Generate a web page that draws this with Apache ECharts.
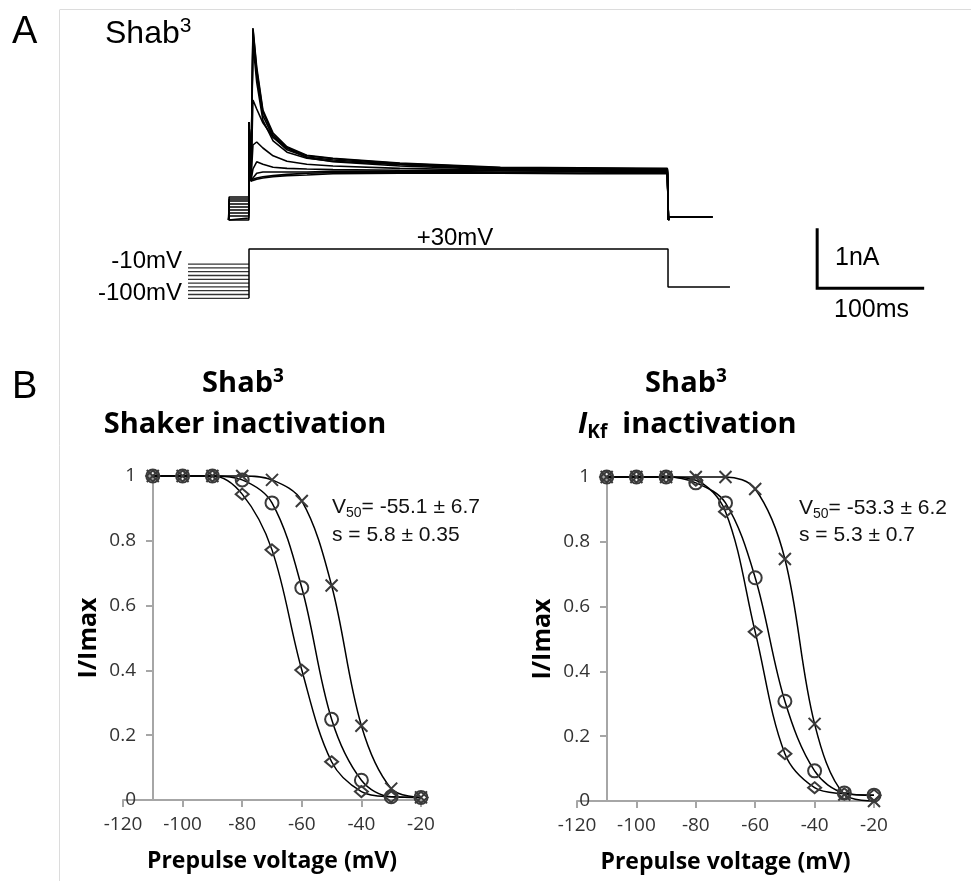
<!DOCTYPE html>
<html><head><meta charset="utf-8">
<script src="https://cdn.jsdelivr.net/npm/echarts@6/dist/echarts.min.js"></script>
<style>html,body{margin:0;padding:0;background:#fff}#c{width:971px;height:881px}</style>
</head><body><div id="c"></div>
<script>
// ---------- Panel B data ----------
const prepulseV = [-110, -100, -90, -80, -70, -60, -50, -40, -30, -20];
const shakerDiamond = [1, 1, 1, 0.944, 0.772, 0.401, 0.118, 0.026, 0.01, 0.008];
const shakerCircle  = [1, 1, 1, 0.988, 0.917, 0.655, 0.249, 0.061, 0.01, 0.008];
const shakerCross   = [1, 1, 1, 1.0, 0.988, 0.923, 0.662, 0.229, 0.035, 0.008];
const ikfDiamond = [1, 1, 1, 0.99, 0.893, 0.522, 0.146, 0.041, 0.022, 0.018];
const ikfCircle  = [1, 1, 1, 0.982, 0.92, 0.689, 0.308, 0.093, 0.025, 0.018];
const ikfCross   = [1, 1, 1, 1.0, 1.0, 0.963, 0.747, 0.238, 0.02, 0.0];

// ---------- Panel A data (time in ms, current in nA) ----------
const traceT = [-19, -18.6, -0.2, 0, 1.8, 3.7, 7.2, 13, 22.5, 35.5, 54, 78.5, 141, 235, 310, 391, 392, 393, 433];
const iPre100 = [0, 0, 0, 1.63, 0.65, 3.2, 2.55, 1.83, 1.45, 1.22, 1.08, 1.03, 0.95, 0.88, 0.87, 0.86, 0, 0.05, 0.05];
const iPre90  = [0, 0.033, 0.033, 1.63, 0.65, 3.18, 2.5, 1.8, 1.42, 1.2, 1.07, 1.02, 0.94, 0.87, 0.86, 0.85, 0, 0.05, 0.05];
const iPre80  = [0, 0.067, 0.067, 1.63, 0.65, 3.1, 2.42, 1.74, 1.38, 1.17, 1.05, 1.0, 0.93, 0.86, 0.85, 0.84, 0, 0.05, 0.05];
const iPre70  = [0, 0.117, 0.117, 1.63, 0.65, 2.95, 2.3, 1.66, 1.32, 1.13, 1.03, 0.98, 0.92, 0.85, 0.84, 0.83, 0, 0.05, 0.05];
const iPre60  = [0, 0.167, 0.167, 1.63, 0.65, 2.0, 1.85, 1.62, 1.38, 1.2, 1.04, 0.97, 0.9, 0.84, 0.83, 0.82, 0, 0.05, 0.05];
const iPre50  = [0, 0.217, 0.217, 1.63, 0.65, 1.25, 1.3, 1.2, 1.07, 0.98, 0.93, 0.9, 0.86, 0.83, 0.82, 0.81, 0, 0.05, 0.05];
const iPre40  = [0, 0.267, 0.267, 1.63, 0.65, 0.85, 0.97, 0.93, 0.88, 0.86, 0.85, 0.84, 0.83, 0.82, 0.81, 0.8, 0, 0.05, 0.05];
const iPre30  = [0, 0.317, 0.317, 1.63, 0.65, 0.7, 0.78, 0.8, 0.8, 0.8, 0.8, 0.81, 0.81, 0.8, 0.8, 0.79, 0, 0.05, 0.05];
const iPre20  = [0, 0.35, 0.35, 1.63, 0.65, 0.68, 0.7, 0.72, 0.74, 0.76, 0.78, 0.79, 0.8, 0.79, 0.78, 0.78, 0, 0.05, 0.05];
const iPre10  = [0, 0.383, 0.383, 1.63, 0.65, 0.66, 0.68, 0.7, 0.72, 0.74, 0.75, 0.77, 0.78, 0.78, 0.77, 0.77, 0, 0.05, 0.05];

// Voltage protocol (mV, ms)
const protoPrepulseMv = [-100, -90, -80, -70, -60, -50, -40, -30, -20, -10];
const protoTimes = [-57, 0, 391.6, 449.5];
const testPulseMv = 30;
const tailMv = -70;

// Scale bar (1 nA, 100 ms)
const scaleNa = 1;
const scaleMs = 100;

// ---------- build ----------
const chart = echarts.init(document.getElementById('c'), null, {renderer: 'canvas'});
const zip = (xs, ys) => xs.map((x, i) => [x, ys[i]]);

const traces = [iPre100, iPre90, iPre80, iPre70, iPre60, iPre50, iPre40, iPre30, iPre20, iPre10];
const series = [];
traces.forEach((tr) => {
  series.push({
    type: 'line', xAxisIndex: 0, yAxisIndex: 0, data: zip(traceT, tr),
    showSymbol: false, symbol: 'none', silent: true, clip: false,
    lineStyle: {color: '#000', width: 1.6}
  });
});
// scale bar
const sbT = 531, sbI = -1.138;
series.push({
  type: 'line', xAxisIndex: 0, yAxisIndex: 0, symbol: 'none', clip: false,
  data: [[sbT, sbI + scaleNa], [sbT, sbI], [sbT + scaleMs, sbI]],
  lineStyle: {color: '#000', width: 3, join: 'miter'}
});
// protocol
protoPrepulseMv.forEach((v) => {
  series.push({
    type: 'line', xAxisIndex: 1, yAxisIndex: 1, symbol: 'none', clip: false,
    data: [[protoTimes[0], v], [protoTimes[1], v]],
    lineStyle: {color: '#333', width: 1.3}
  });
});
series.push({
  type: 'line', xAxisIndex: 1, yAxisIndex: 1, symbol: 'none', clip: false,
  data: [[protoTimes[1], protoPrepulseMv[0]], [protoTimes[1], testPulseMv], [protoTimes[2], testPulseMv],
         [protoTimes[2], tailMv], [protoTimes[3], tailMv]],
  lineStyle: {color: '#000', width: 1.5}
});

const crossPath = 'path://M0,0L10,10M10,0L0,10';
function bSeries(ax, vals, sym, size) {
  return {
    type: 'line', xAxisIndex: ax, yAxisIndex: ax, data: zip(prepulseV, vals),
    smooth: 0.35, clip: false, symbol: sym, symbolSize: size, showSymbol: true,
    lineStyle: {color: '#000', width: 1.5},
    itemStyle: {color: 'rgba(0,0,0,0)', borderColor: '#3a3a3a', borderWidth: 2},
    z: 3
  };
}
series.push(bSeries(2, shakerDiamond, 'diamond', [13, 11]));
series.push(bSeries(2, shakerCircle, 'circle', 13));
series.push(bSeries(2, shakerCross, crossPath, 12));
series.push(bSeries(3, ikfDiamond, 'diamond', [13, 11]));
series.push(bSeries(3, ikfCircle, 'circle', 13));
series.push(bSeries(3, ikfCross, crossPath, 12));

const hiddenAxis = {show: false};
const tickRich = {t: {fontFamily: 'Open Sans', fontSize: 19, color: '#333', fill: '#333'}};
function bX(gi) {
  return {
    gridIndex: gi, type: 'value', min: -120, max: -20, interval: 20,
    axisLine: {show: true, onZero: false, lineStyle: {color: '#a6a6a6', width: 2}},
    axisTick: {show: true, length: 7, lineStyle: {color: '#a6a6a6', width: 2}},
    splitLine: {show: false},
    axisLabel: {show: true, margin: 15, fontFamily: 'Open Sans', fontSize: 19, color: '#333',
      formatter: '{t|{value}}', rich: tickRich},
    name: 'Prepulse voltage (mV)', nameLocation: 'middle', nameGap: 50,
    nameTextStyle: {fontFamily: 'Open Sans', fontWeight: 'bold', fontSize: 23, color: '#000'}
  };
}
function bY(gi) {
  return {
    gridIndex: gi, type: 'value', min: 0, max: 1, interval: 0.2, offset: -30,
    axisLine: {show: true, lineStyle: {color: '#a6a6a6', width: 2}},
    axisTick: {show: true, length: 7, lineStyle: {color: '#a6a6a6', width: 2}},
    splitLine: {show: false},
    axisLabel: {show: true, margin: 17, fontFamily: 'Open Sans', fontSize: 19, color: '#333',
      formatter: '{t|{value}}', rich: tickRich},
    name: 'I/Imax', nameLocation: 'middle', nameGap: 52, nameRotate: 90,
    nameTextStyle: {fontFamily: 'Open Sans', fontWeight: 'bold', fontSize: 25, color: '#000'}
  };
}

const arial = 'Liberation Sans, Arial, sans-serif';
const osans = 'Open Sans, sans-serif';
function txt(text, x, y, opts) {
  return {type: 'text', silent: true, z: 10, style: Object.assign({
    text, x, y, fill: '#000', align: 'left', verticalAlign: 'middle',
    fontFamily: arial, fontSize: 24
  }, opts || {})};
}

const graphic = [
  {type: 'line', silent: true, shape: {x1: 60, y1: 9.5, x2: 971, y2: 9.5}, style: {stroke: '#dcdcdc', lineWidth: 1}},
  {type: 'line', silent: true, shape: {x1: 59.5, y1: 9.5, x2: 59.5, y2: 881}, style: {stroke: '#dcdcdc', lineWidth: 1}},
  txt('A', 12, 33, {fontSize: 38}),
  txt('B', 12, 388, {fontSize: 38}),
  txt('{a|Shab}{s|3}', 105, 34, {rich: {
    a: {fontFamily: arial, fontSize: 32, fill: '#000', lineHeight: 36},
    s: {fontFamily: arial, fontSize: 21, fill: '#000', verticalAlign: 'top', lineHeight: 36, padding: [0, 0, 12, 0]}
  }}),
  txt('-10mV', 182, 261, {align: 'right'}),
  txt('-100mV', 182, 293, {align: 'right'}),
  txt('+30mV', 455, 238, {align: 'center'}),
  txt('1nA', 835, 258, {fontSize: 25}),
  txt('100ms', 834, 310, {fontSize: 25}),
  txt('{a|Shab}{s|3}', 243, 384, {align: 'center', rich: {
    a: {fontFamily: osans, fontWeight: 'bold', fontSize: 29, fill: '#000', lineHeight: 34},
    s: {fontFamily: osans, fontWeight: 'bold', fontSize: 19, fill: '#000', verticalAlign: 'top', lineHeight: 34, padding: [0, 0, 12, 0]}
  }}),
  txt('Shaker inactivation', 245, 425, {align: 'center', fontFamily: osans, fontWeight: 'bold', fontSize: 29}),
  txt('{a|Shab}{s|3}', 686, 384, {align: 'center', rich: {
    a: {fontFamily: osans, fontWeight: 'bold', fontSize: 29, fill: '#000', lineHeight: 34},
    s: {fontFamily: osans, fontWeight: 'bold', fontSize: 19, fill: '#000', verticalAlign: 'top', lineHeight: 34, padding: [0, 0, 12, 0]}
  }}),
  txt('{i|I}{k|Kf}{a|  inactivation}', 578, 425, {rich: {
    i: {fontFamily: osans, fontWeight: 'bold', fontStyle: 'italic', fontSize: 29, fill: '#000', lineHeight: 34},
    k: {fontFamily: osans, fontWeight: 'bold', fontSize: 19, fill: '#000', verticalAlign: 'bottom', lineHeight: 34},
    a: {fontFamily: osans, fontWeight: 'bold', fontSize: 29, fill: '#000', lineHeight: 34}
  }}),
  txt('{a|V}{b|50}{a|= -55.1 ± 6.7}', 332, 507, {rich: {
    a: {fontFamily: arial, fontSize: 21, fill: '#111', lineHeight: 26},
    b: {fontFamily: arial, fontSize: 14, fill: '#111', verticalAlign: 'bottom', lineHeight: 26}
  }}),
  txt('s = 5.8 ± 0.35', 332, 535, {fontSize: 21, fill: '#111'}),
  txt('{a|V}{b|50}{a|= -53.3 ± 6.2}', 799, 508, {rich: {
    a: {fontFamily: arial, fontSize: 21, fill: '#111', lineHeight: 26},
    b: {fontFamily: arial, fontSize: 14, fill: '#111', verticalAlign: 'bottom', lineHeight: 26}
  }}),
  txt('s = 5.3 ± 0.7', 799, 535, {fontSize: 21, fill: '#111'})
];

const option = {
  animation: false,
  backgroundColor: '#fff',
  grid: [
    {left: 184.8, top: 10, width: 749, height: 300},
    {left: 184.8, top: 245.1, width: 749, height: 60.8},
    {left: 123, top: 476, width: 298, height: 324},
    {left: 577, top: 477, width: 297, height: 324}
  ],
  xAxis: [
    Object.assign({gridIndex: 0, type: 'value', min: -60, max: 640}, hiddenAxis),
    Object.assign({gridIndex: 1, type: 'value', min: -60, max: 640}, hiddenAxis),
    bX(2), bX(3)
  ],
  yAxis: [
    Object.assign({gridIndex: 0, type: 'value', min: -1.5, max: 3.5}, hiddenAxis),
    Object.assign({gridIndex: 1, type: 'value', min: -120, max: 40}, hiddenAxis),
    bY(2), bY(3)
  ],
  series: series,
  graphic: graphic
};
chart.setOption(option);
</script></body></html>
